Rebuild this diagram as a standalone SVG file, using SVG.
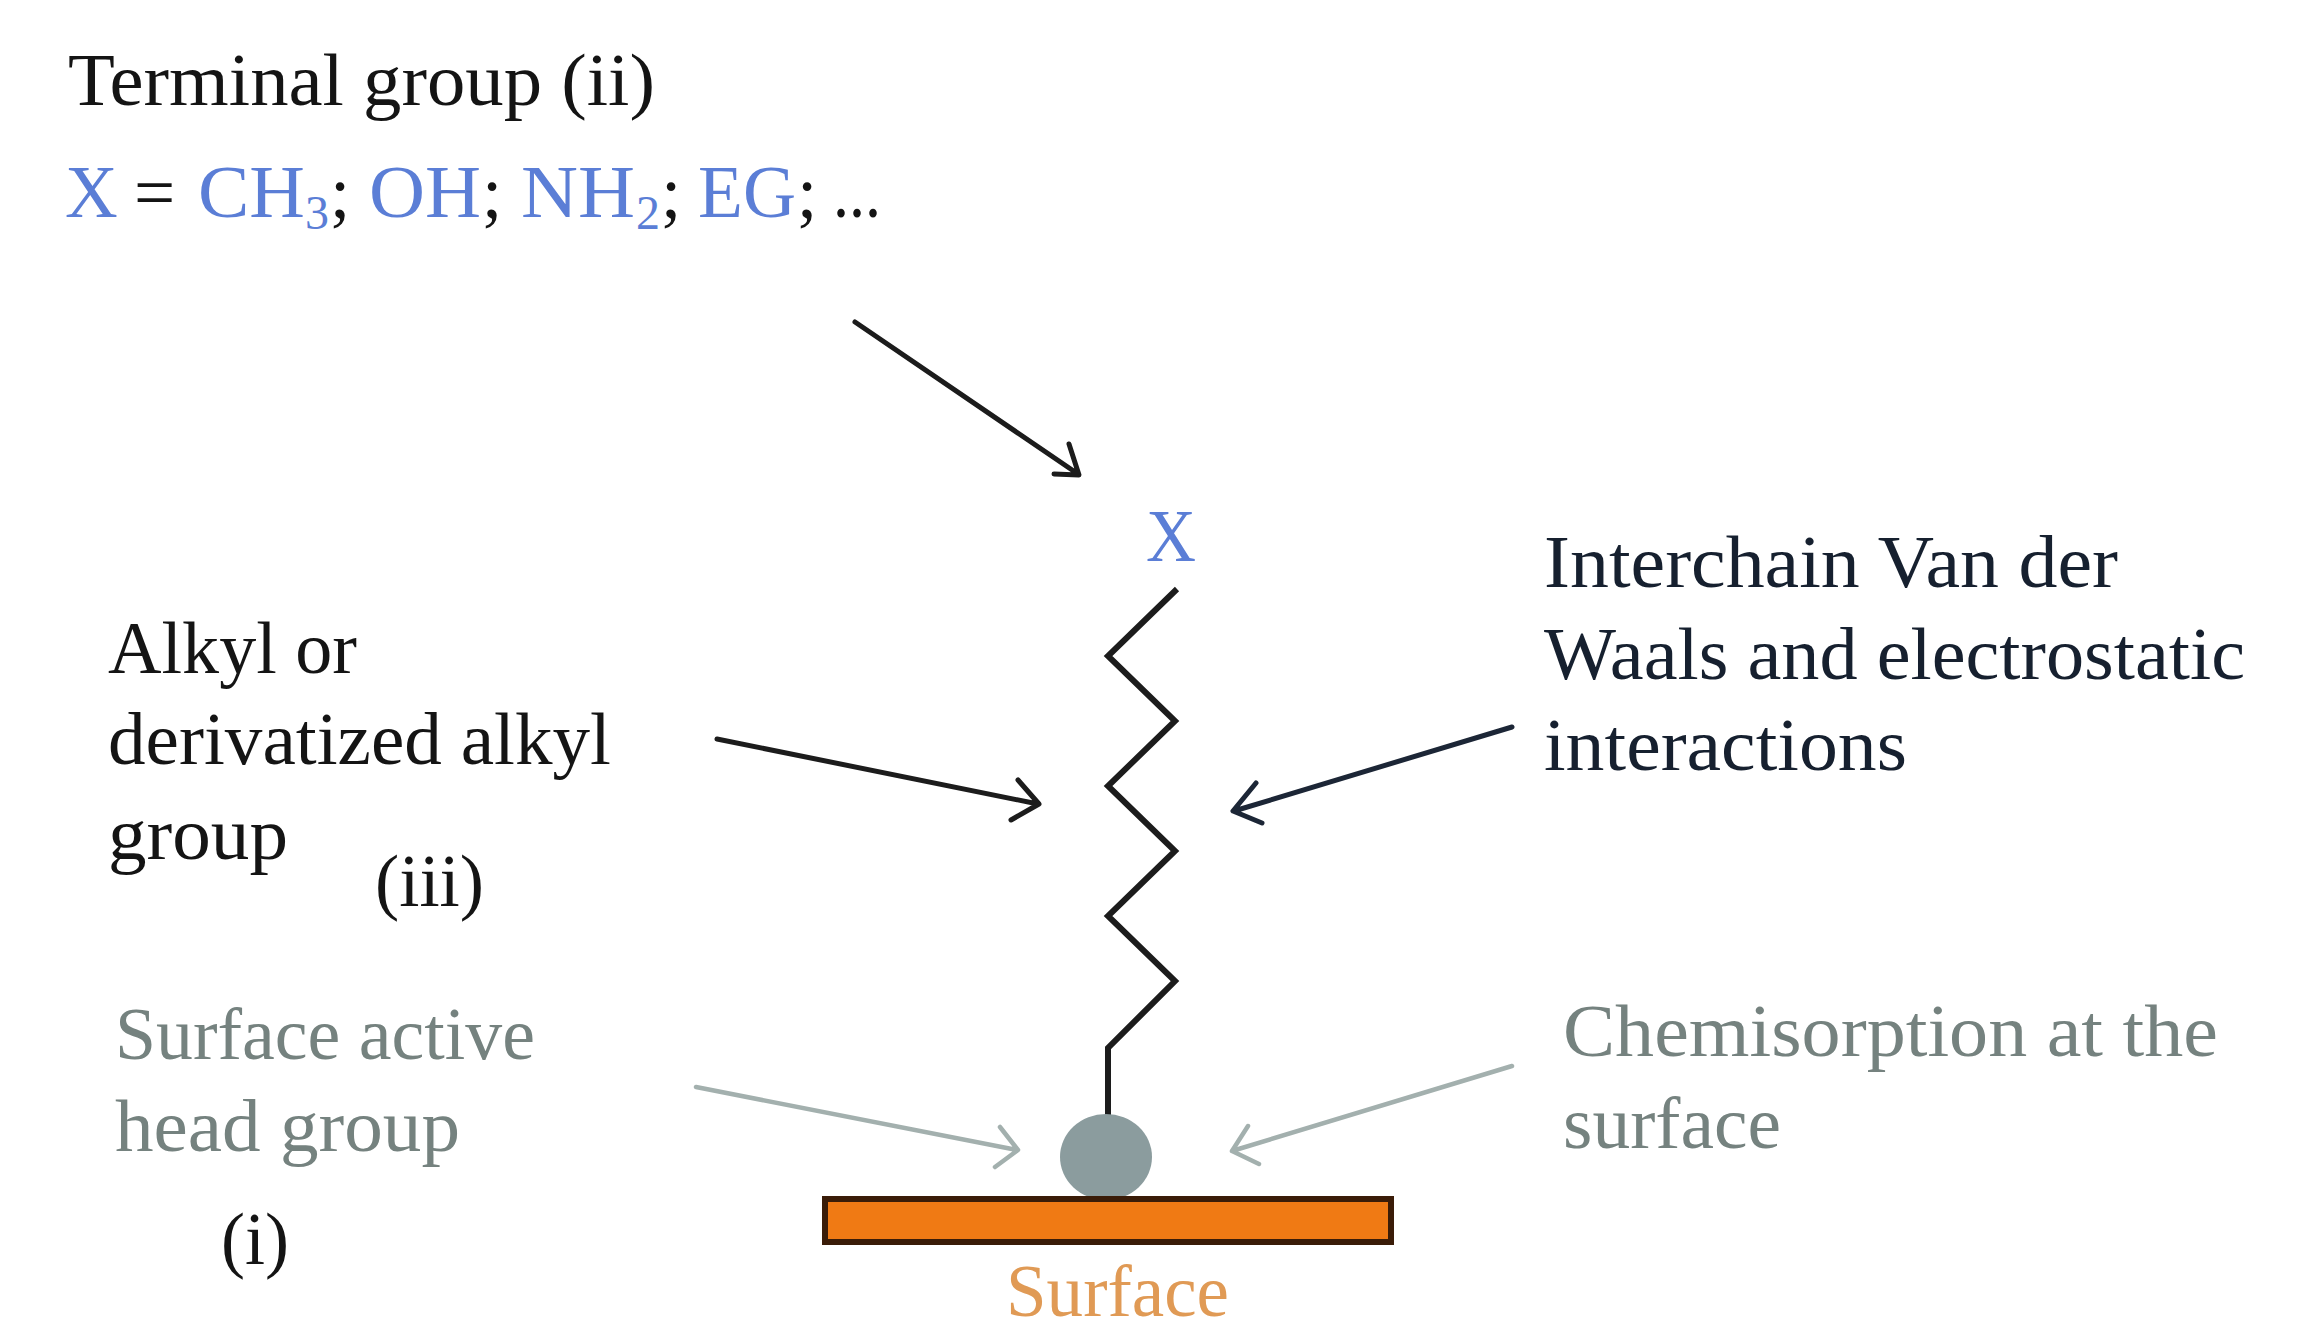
<svg xmlns="http://www.w3.org/2000/svg" width="2313" height="1337" viewBox="0 0 2313 1337">
<defs>
<style>
text{font-family:"Liberation Serif","Times New Roman",serif;font-size:73px;fill:#141414}
.blue{fill:#5b7ed6}
.grey{fill:#75827f}
.navy{fill:#16202f}
.sub{font-size:48px}
.conn{fill:none;stroke-width:5;stroke-linecap:round;stroke-linejoin:round}
.k{stroke:#1c1c1c}
.n{stroke:#1c2636}
.g{stroke:#a3b0ae;stroke-width:4.5}
</style>
</defs>
<rect width="2313" height="1337" fill="#fff"/>
<g id="connectors">
<path class="conn k" d="M855 322L1078 474M1054 474L1079 475L1069 444"/>
<path class="conn k" d="M717 739L1038 804M1011 820L1039 804L1018 780"/>
<path class="conn n" d="M1512 727L1234 811M1256 783L1233 811L1262 823"/>
<path class="conn g" d="M696 1087L1017 1150M1000 1127L1018 1150L995 1167"/>
<path class="conn g" d="M1512 1066L1232 1151M1248 1126L1232 1151L1259 1164"/>
</g>
<g id="terminal-label">
<text x="68" y="105" textLength="587" lengthAdjust="spacingAndGlyphs">Terminal group (ii)</text>
<text y="217"><tspan class="blue" x="65">X</tspan><tspan x="134">=</tspan><tspan class="blue" x="198" textLength="107" lengthAdjust="spacingAndGlyphs">CH</tspan><tspan class="blue sub" x="305" dy="12">3</tspan><tspan x="330" dy="-12">;</tspan><tspan class="blue" x="369" textLength="112" lengthAdjust="spacingAndGlyphs">OH</tspan><tspan x="482">;</tspan><tspan class="blue" x="521" textLength="114" lengthAdjust="spacingAndGlyphs">NH</tspan><tspan class="blue sub" x="636" dy="12">2</tspan><tspan x="661" dy="-12">;</tspan><tspan class="blue" x="698" textLength="98" lengthAdjust="spacingAndGlyphs">EG</tspan><tspan x="797">;</tspan><tspan x="833" textLength="48" lengthAdjust="spacingAndGlyphs">...</tspan></text>
</g>
<g id="alkyl-label">
<text x="108" y="673" textLength="249" lengthAdjust="spacingAndGlyphs">Alkyl or</text>
<text x="108" y="764" textLength="503" lengthAdjust="spacingAndGlyphs">derivatized alkyl</text>
<text x="108" y="859" textLength="180" lengthAdjust="spacingAndGlyphs">group</text>
<text x="375" y="906" textLength="109" lengthAdjust="spacingAndGlyphs">(iii)</text>
</g>
<g id="head-label">
<text class="grey" x="115" y="1059" textLength="420" lengthAdjust="spacingAndGlyphs">Surface active</text>
<text class="grey" x="115" y="1151" textLength="345" lengthAdjust="spacingAndGlyphs">head group</text>
<text x="221" y="1264" textLength="68" lengthAdjust="spacingAndGlyphs">(i)</text>
</g>
<g id="interchain-label">
<text class="navy" x="1544" y="587" textLength="574" lengthAdjust="spacingAndGlyphs">Interchain Van der</text>
<text class="navy" x="1544" y="679" textLength="701" lengthAdjust="spacingAndGlyphs">Waals and electrostatic</text>
<text class="navy" x="1544" y="770" textLength="363" lengthAdjust="spacingAndGlyphs">interactions</text>
</g>
<g id="chemisorption-label">
<text class="grey" x="1563" y="1056" textLength="655" lengthAdjust="spacingAndGlyphs">Chemisorption at the</text>
<text class="grey" x="1563" y="1148" textLength="218" lengthAdjust="spacingAndGlyphs">surface</text>
</g>
<g id="molecule">
<text class="blue" x="1146" y="561" textLength="50" lengthAdjust="spacingAndGlyphs">X</text>
<path d="M1177 589L1108 656L1175 721L1108 786L1175 851L1108 916L1175 981L1108 1048V1120" fill="none" stroke="#1c1c1c" stroke-width="6" stroke-linejoin="miter"/>
<ellipse cx="1106" cy="1157" rx="46" ry="43" fill="#8b9c9e"/>
</g>
<g id="surface">
<rect x="825" y="1199" width="566" height="43" fill="#f07a14" stroke="#3a1c08" stroke-width="6"/>
<text x="1006" y="1316" textLength="223" lengthAdjust="spacingAndGlyphs" style="fill:#e09a55">Surface</text>
</g>
</svg>
